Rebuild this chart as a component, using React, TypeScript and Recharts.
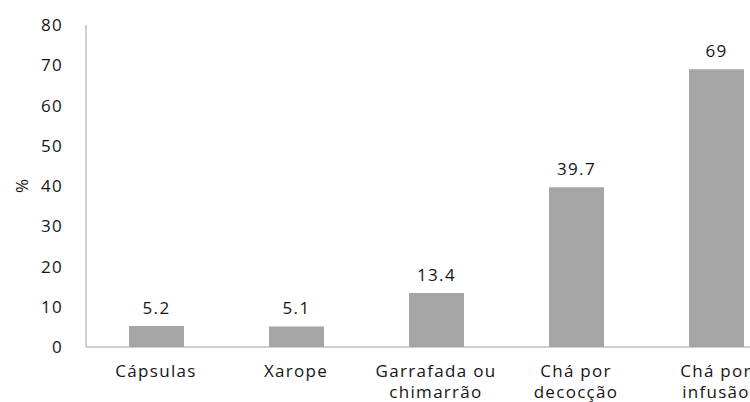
import { BarChart, Bar, XAxis, YAxis, LabelList } from "recharts";

// categorias (eixo x) e percentuais
const CATEGORIAS = [
  "Cápsulas",
  "Xarope",
  "Garrafada ou chimarrão",
  "Chá por decocção",
  "Chá por infusão",
];

// rótulos do eixo x quebrados em linhas
const ROTULOS_X = [
  ["Cápsulas"],
  ["Xarope"],
  ["Garrafada ou", "chimarrão"],
  ["Chá por", "decocção"],
  ["Chá por", "infusão"],
];

const PERCENTUAIS = [5.2, 5.1, 13.4, 39.7, 69];

const TICKS_Y = [0, 10, 20, 30, 40, 50, 60, 70, 80];

const FONTE = "'Open Sans', 'Noto Sans', sans-serif";
const COR_TEXTO = "#151515";
const COR_BARRA = "#A5A5A5";
const COR_EIXO = "#A0A0A0";

const dados = CATEGORIAS.map((categoria, i) => ({
  categoria,
  valor: PERCENTUAIS[i],
}));

function TickX(props: any) {
  const { x, y, index } = props;
  const linhas = ROTULOS_X[index] || [];
  return (
    <text
      x={x}
      y={y + 28}
      textAnchor="middle"
      fill={COR_TEXTO}
      style={{ fontFamily: FONTE, fontSize: 17, letterSpacing: 1.3 }}
    >
      {linhas.map((l, i) => (
        <tspan key={i} x={x} dy={i === 0 ? 0 : 21}>
          {l}
        </tspan>
      ))}
    </text>
  );
}

function RotuloY(props: any) {
  const vb = props.viewBox || { x: 0, y: 0, width: 0, height: 0 };
  const cx = vb.x + 21;
  const cy = vb.y + vb.height / 2;
  return (
    <text
      x={cx}
      y={cy}
      textAnchor="middle"
      dominantBaseline="central"
      transform={`rotate(-90 ${cx} ${cy})`}
      fill={COR_TEXTO}
      style={{ fontFamily: FONTE, fontSize: 17 }}
    >
      %
    </text>
  );
}

export default function App() {
  return (
    <div
      style={{
        position: "absolute",
        left: 0,
        top: 0,
        width: 750,
        height: 402,
        overflow: "hidden",
        background: "#fff",
      }}
    >
      <BarChart
        width={800}
        height={402}
        data={dados}
        margin={{ top: 25, right: 14, bottom: 0, left: 0 }}
      >
        <XAxis
          dataKey="categoria"
          height={55}
          axisLine={{ stroke: COR_EIXO }}
          tickLine={false}
          tickSize={0}
          tickMargin={2}
          interval={0}
          tick={<TickX />}
        />
        <YAxis
          width={86}
          domain={[0, 80]}
          ticks={TICKS_Y}
          interval={0}
          axisLine={{ stroke: COR_EIXO }}
          tickLine={false}
          tickSize={0}
          tickMargin={23}
          tick={{
            fill: COR_TEXTO,
            fontSize: 17,
            fontFamily: FONTE,
            letterSpacing: 1.3,
          }}
          label={{ content: <RotuloY /> }}
        />
        <Bar
          dataKey="valor"
          fill={COR_BARRA}
          barSize={55}
          isAnimationActive={false}
        >
          <LabelList
            dataKey="valor"
            position="top"
            offset={12}
            fill={COR_TEXTO}
            style={{ fontFamily: FONTE, fontSize: 17, letterSpacing: 1.3 }}
          />
        </Bar>
      </BarChart>
    </div>
  );
}
